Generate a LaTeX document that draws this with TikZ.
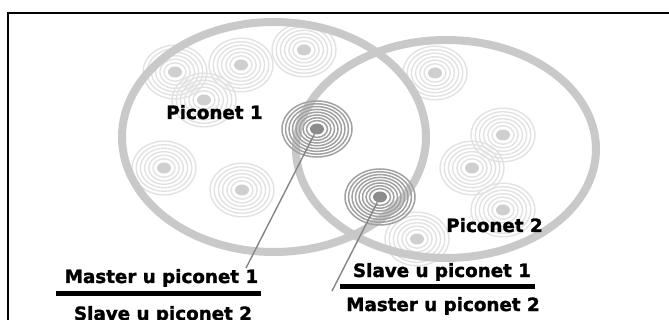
\documentclass[tikz,border=0pt]{standalone}
\usepackage{fontspec}
\setmainfont{DejaVu Sans}[BoldFeatures={FakeBold=1.6}]
\usetikzlibrary{shapes.geometric}
\definecolor{ringgray}{gray}{0.79}
\definecolor{faintc}{gray}{0.885}
\definecolor{faintdotc}{gray}{0.81}
\definecolor{darkc}{gray}{0.63}
\definecolor{darkdotc}{gray}{0.55}
\definecolor{linec}{gray}{0.52}
\newcommand\faintdevice[3]{%
  \foreach \rx/\ry in {11/9.2,15.2/12.8,19.4/16.3,23.6/19.8,27.8/23.3,32/26.8}
    \draw[faintring] (#1,#2) ellipse[x radius=\rx pt, y radius=\ry pt];
  \node[faintdot] (#3) at (#1,#2) {};}
\newcommand\darkdevice[3]{%
  \foreach \rx/\ry in {10.5/8.4,14/11.2,17.5/14,21/16.8,24.5/19.6,28/22.4,31.5/25.2,35/28}
    \draw[darkring] (#1,#2) ellipse[x radius=\rx pt, y radius=\ry pt];
  \node[darkdot] (#3) at (#1,#2) {};}
\begin{document}
\begin{tikzpicture}[x=1pt,y=-1pt,
  bigring/.style={draw=ringgray, line width=8pt},
  faintring/.style={draw=faintc, line width=1.4pt},
  darkring/.style={draw=darkc, line width=1.5pt},
  faintdot/.style={ellipse, fill=faintdotc, minimum width=14pt, minimum height=11pt, inner sep=0pt},
  darkdot/.style={ellipse, fill=darkdotc, minimum width=14pt, minimum height=11pt, inner sep=0pt},
  pointer/.style={draw=linec, line width=1.4pt},
  bar/.style={draw=black, line width=5pt},
  frame/.style={draw=black, line width=1.4pt},
  lbl/.style={font=\fontsize{18.3}{20}\selectfont\bfseries, anchor=base, inner sep=0pt, text=black}]
\useasboundingbox (0,0) rectangle (669,320);
\fill[white] (0,0) rectangle (669,320);
% frame
\coordinate (fl) at (8,330);
\coordinate (fc) at (8,13);
\coordinate (fr) at (680,13);
\draw[frame] (fl) -- (fc) -- (fr);
% faint devices
\faintdevice{175}{72}{f1}
\faintdevice{241}{65}{f2}
\faintdevice{304}{50}{f3}
\faintdevice{204}{100}{f4}
\faintdevice{164}{168}{f5}
\faintdevice{242}{190}{f6}
\faintdevice{435}{73}{f7}
\faintdevice{503}{135}{f8}
\faintdevice{472}{168}{f9}
\faintdevice{503}{210}{f10}
\faintdevice{417}{239}{f11}
% piconet rings
\node[draw=none, inner sep=0pt] (p1) at (274,137) {};
\node[draw=none, inner sep=0pt] (p2) at (446,149) {};
\draw[bigring] (p1) ellipse[x radius=152pt, y radius=115pt];
\draw[bigring] (p2) ellipse[x radius=150pt, y radius=109pt];
% dark devices
\darkdevice{317}{129}{m1}
\darkdevice{380}{197}{m2}
% pointers
\coordinate (e1) at (246,268);
\coordinate (e2) at (332,291);
\draw[pointer] (m1) -- (e1);
\draw[pointer] (m2) -- (e2);
% labels
\node[lbl] (t1) at (214.5,119) {Piconet 1};
\node[lbl] (t2) at (494.5,232) {Piconet 2};
\node[lbl] (t3) at (161.5,283) {Master u piconet 1};
\node[lbl] (t4) at (163,320) {Slave u piconet 2};
\node[lbl] (t5) at (442,277) {Slave u piconet 1};
\node[lbl] (t6) at (443,311) {Master u piconet 2};
% bars
\coordinate (b1a) at (56,293.5);
\coordinate (b1b) at (261,293.5);
\coordinate (b2a) at (340,286.5);
\coordinate (b2b) at (535,286.5);
\draw[bar] (b1a) -- (b1b);
\draw[bar] (b2a) -- (b2b);
\end{tikzpicture}
\end{document}
